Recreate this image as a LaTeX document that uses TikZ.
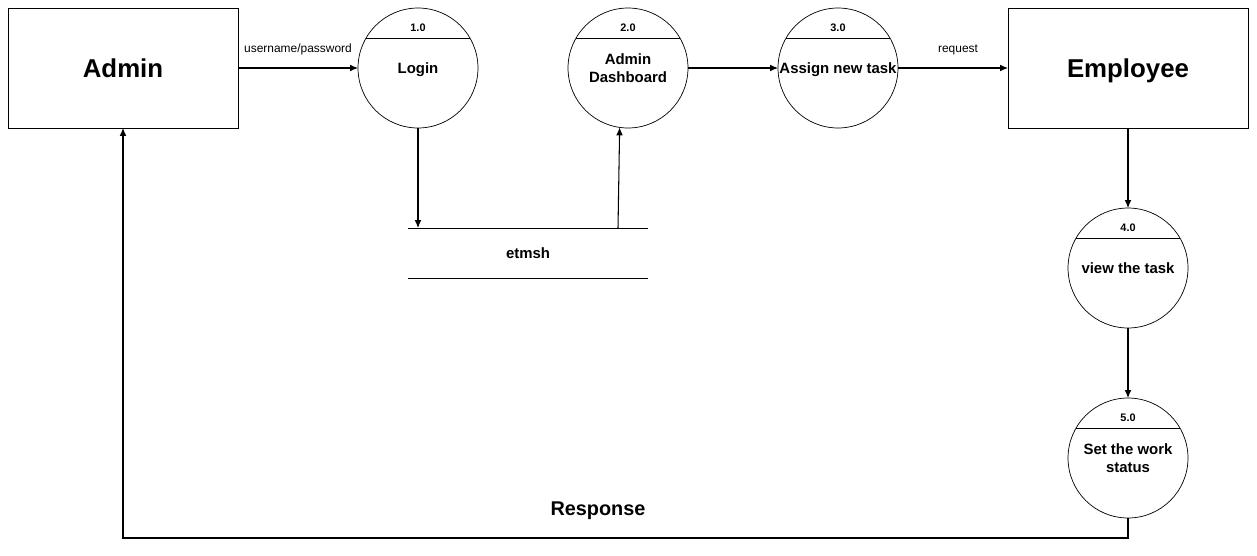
\documentclass[tikz,border=0pt]{standalone}
\usepackage{fontspec}
\setmainfont{Liberation Sans}
\usetikzlibrary{positioning}
\usetikzlibrary{arrows.meta}
\tikzset{
	entity/.style={draw, rectangle, inner sep=0pt, outer sep=0pt, minimum width=4.6cm, minimum height=2.4cm, text depth=0pt, font=\fontsize{14.7}{17}\selectfont\bfseries},
	process/.style={draw, circle, inner sep=0pt, outer sep=0pt, minimum size=2.4cm, align=center, text depth=0pt, font=\fontsize{8.5}{10.2}\selectfont\bfseries},
	num/.style={inner sep=0pt, yshift=-0.4cm, font=\fontsize{6.2}{7}\selectfont\bfseries},
	store/.style={rectangle, inner sep=0pt, outer sep=0pt, minimum width=4.8cm, minimum height=1cm, font=\fontsize{8.5}{10.2}\selectfont\bfseries},
	% labels on the flows
	flow/.style={inner sep=0pt, font=\fontsize{6.8}{8}\selectfont},
	resp/.style={inner sep=0pt, text depth=0pt, font=\fontsize{11.3}{13}\selectfont\bfseries},
}

\begin{document}
\begin{tikzpicture}[x=0.02cm, y=-0.02cm]
	\useasboundingbox (0,0) rectangle (1257,555);
	
	\node (ent1) [entity] at (123,68) {Admin};
	\node (ent2) [entity, minimum width=4.8cm] at (1128,68) {Employee};
	
	\node (pr1) [process] at (418,68) {Login};
	\node (n1) [num] at (pr1.north) {1.0};
	\node (pr2) [process] at (628,68) {Admin\\Dashboard};
	\node (n2) [num] at (pr2.north) {2.0};
	\node (pr3) [process] at (838,68) {Assign new task};
	\node (n3) [num] at (pr3.north) {3.0};
	\node (pr4) [process] at (1128,268) {view the task};
	\node (n4) [num] at (pr4.north) {4.0};
	\node (pr5) [process] at (1128,458) {Set the work\\status};
	\node (n5) [num] at (pr5.north) {5.0};
	
	\node (db) [store] at (528,253) {etmsh};
	\coordinate (db2) at (618,228);
	
	\node (resp1) [resp] at (598,509) {Response};
	
	\draw (pr1.150) -- (pr1.30);
	\draw (pr2.150) -- (pr2.30);
	\draw (pr3.150) -- (pr3.30);
	\draw (pr4.150) -- (pr4.30);
	\draw (pr5.150) -- (pr5.30);
	
	\draw (db.north west) -- (db.north east);
	\draw (db.south west) -- (db.south east);
	
	\begin{scope}[semithick, black, ->, >={Latex[length=4.5pt, width=3.8pt]}]
		\draw (ent1) -- node[flow, midway, yshift=0.37cm] {username/password} (pr1);
		\draw (pr1.south) -- (pr1.south |- db.north);
		\draw (db2) -- (pr2.262);
		\draw (pr2) -- (pr3);
		\draw (pr3) -- node[flow, midway, xshift=0.1cm, yshift=0.37cm] {request} (ent2);
		
		\draw (ent2) -- (pr4);
		\draw (pr4) -- (pr5);
		\draw (pr5.south) -- ++(0,20) -| (ent1.south);
	\end{scope}
	
\end{tikzpicture}
\end{document}
